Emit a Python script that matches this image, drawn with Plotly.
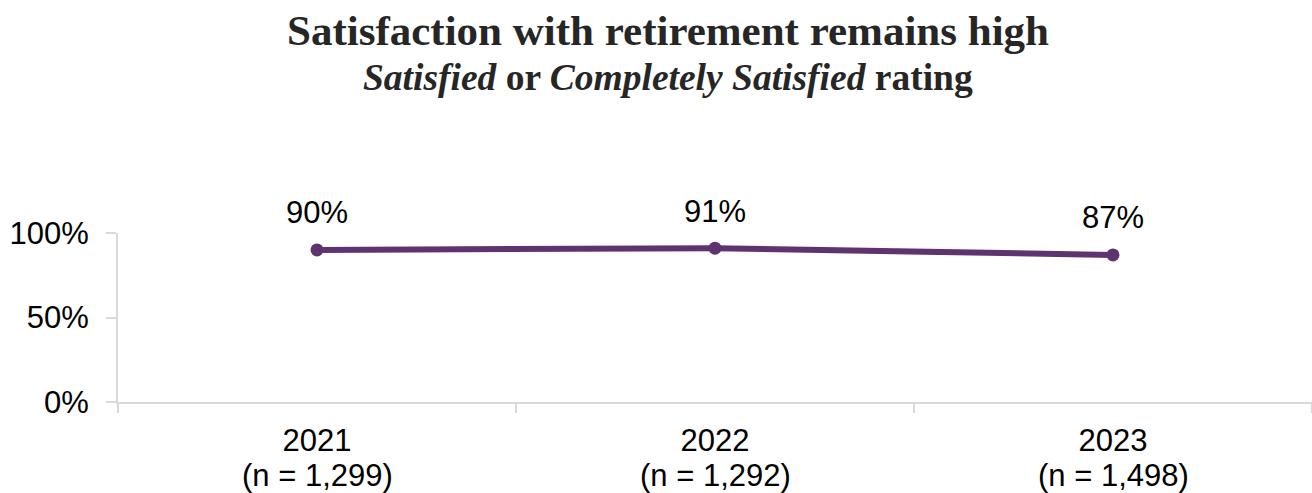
import plotly.graph_objects as go

# Survey years, sample sizes and share rating Satisfied / Completely Satisfied
years = ["2021", "2022", "2023"]
sample_sizes = ["1,299", "1,292", "1,498"]
satisfied_pct = [90, 91, 87]
y_ticks = [0, 50, 100]
y_tick_labels = ["0%", "50%", "100%"]

LINE_COLOR = "#5E336F"
AXIS_COLOR = "#D9D9D9"
TEXT_COLOR = "#000000"
SANS = "Liberation Sans, Arial, sans-serif"
SERIF = "Liberation Serif, Times New Roman, serif"

fig = go.Figure()
fig.add_trace(go.Scatter(
    x=years,
    y=satisfied_pct,
    mode="lines+markers",
    line=dict(color=LINE_COLOR, width=6),
    marker=dict(color=LINE_COLOR, size=13),
    hoverinfo="skip",
    showlegend=False,
))

annotations = []
# value labels above each point (category axis positions by index)
for i, v in enumerate(satisfied_pct):
    annotations.append(dict(
        x=i, y=v, xref="x", yref="y", text=f"{v}%",
        showarrow=False, yanchor="middle", yshift=37,
        font=dict(family=SANS, size=31, color=TEXT_COLOR),
    ))
# sample size line under each year label
for i, n in enumerate(sample_sizes):
    annotations.append(dict(
        x=i, y=0, xref="x", yref="y", text=f"(n = {n})",
        showarrow=False, yanchor="middle", yshift=-73,
        font=dict(family=SANS, size=31, color=TEXT_COLOR),
    ))
# title and subtitle, centred on the page
annotations.append(dict(
    x=0.5, y=1, xref="paper", yref="paper", xanchor="center", yanchor="middle",
    xshift=-47, yshift=203,
    text="<b>Satisfaction with retirement remains high</b>",
    showarrow=False,
    font=dict(family=SERIF, size=43, color="#262626"),
))
annotations.append(dict(
    x=0.5, y=1, xref="paper", yref="paper", xanchor="center", yanchor="middle",
    xshift=-47, yshift=156,
    text="<b><i>Satisfied</i> or <i>Completely Satisfied</i> rating</b>",
    showarrow=False,
    font=dict(family=SERIF, size=37.5, color="#262626"),
))

fig.update_layout(
    width=1312,
    height=493,
    margin=dict(l=118, r=0, t=233, b=91),
    paper_bgcolor="white",
    plot_bgcolor="white",
    annotations=annotations,
    xaxis=dict(
        type="category",
        range=[-0.5, 2.5],
        showgrid=False,
        zeroline=False,
        showline=True,
        linecolor=AXIS_COLOR,
        linewidth=2,
        ticks="outside",
        tickson="boundaries",
        ticklen=9,
        tickwidth=2,
        tickcolor=AXIS_COLOR,
        ticklabelstandoff=10,
        tickfont=dict(family=SANS, size=31, color=TEXT_COLOR),
        fixedrange=True,
    ),
    yaxis=dict(
        range=[0, 100],
        tickvals=y_ticks,
        ticktext=y_tick_labels,
        showgrid=False,
        zeroline=False,
        showline=True,
        linecolor=AXIS_COLOR,
        linewidth=2,
        ticks="outside",
        ticklen=10,
        tickwidth=2,
        tickcolor=AXIS_COLOR,
        ticklabelstandoff=11,
        tickfont=dict(family=SANS, size=31, color=TEXT_COLOR),
        fixedrange=True,
    ),
)

fig.write_html("out.html")
